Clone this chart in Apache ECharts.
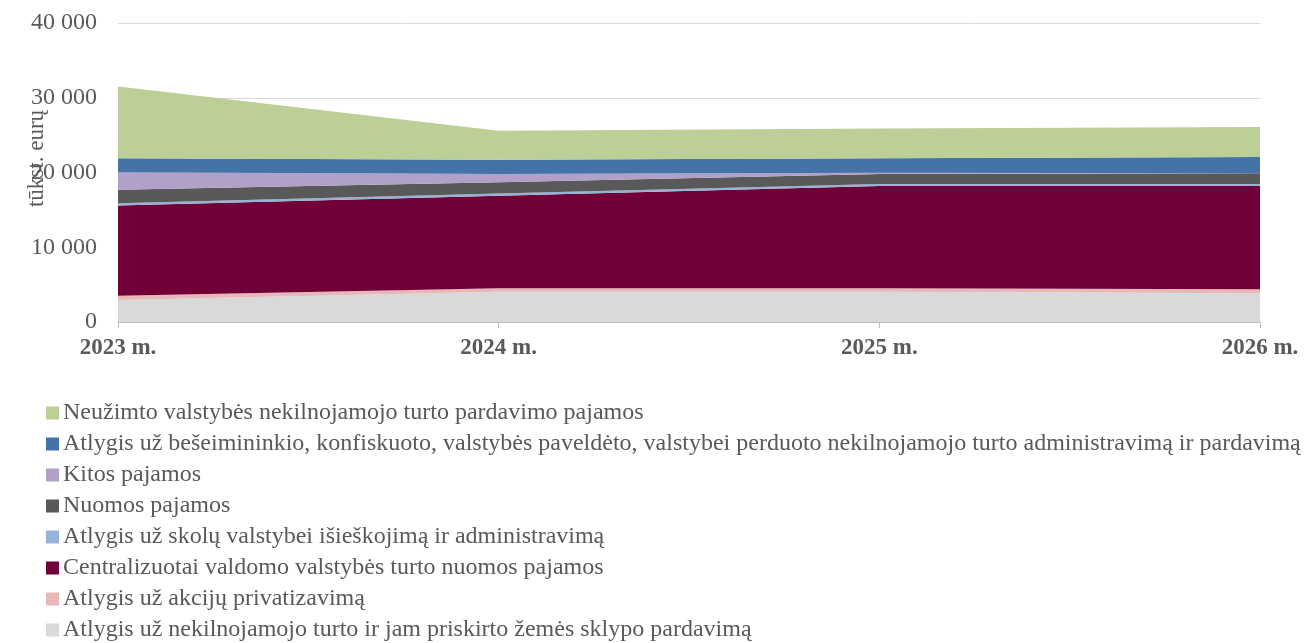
<!DOCTYPE html>
<html>
<head>
<meta charset="utf-8">
<script src="https://cdn.jsdelivr.net/npm/echarts@6/dist/echarts.min.js"></script>
<style>
  html, body { margin: 0; padding: 0; background: #fff; }
  #chart { width: 1305px; height: 643px; }
</style>
</head>
<body>
<div id="chart"></div>
<script>
// metai
const years = ['2023 m.', '2024 m.', '2025 m.', '2026 m.']

// tūkst. eurų, nuo apatinio sluoksnio
const nekilnojamojoPardavimas = [2950, 4050, 4050, 3850]
const akcijuPrivatizavimas = [550, 450, 450, 530]
const centralizuotaiNuoma = [12100, 12400, 13690, 13820]
const skoluIsieskojimas = [300, 300, 270, 270]
const nuomosPajamos = [1800, 1500, 1340, 1430]
const kitosPajamos = [2350, 1100, 150, 0]
const besemininkioTurtas = [1870, 1900, 1950, 2180]
const neuzimtoPardavimas = [9590, 3900, 4000, 4010]

const yTicks = [0, 10000, 20000, 30000, 40000]

const FONT = '"Liberation Serif", "DejaVu Serif", serif'

const layers = [
  { name: 'Atlygis už nekilnojamojo turto ir jam priskirto žemės sklypo pardavimą', data: nekilnojamojoPardavimas, color: '#d9d9d9' },
  { name: 'Atlygis už akcijų privatizavimą', data: akcijuPrivatizavimas, color: '#e6b9b8' },
  { name: 'Centralizuotai valdomo valstybės turto nuomos pajamos', data: centralizuotaiNuoma, color: '#720038' },
  { name: 'Atlygis už skolų valstybei išieškojimą ir administravimą', data: skoluIsieskojimas, color: '#95b3d7' },
  { name: 'Nuomos pajamos', data: nuomosPajamos, color: '#595959' },
  { name: 'Kitos pajamos', data: kitosPajamos, color: '#b1a0c7' },
  { name: 'Atlygis už bešeimininkio, konfiskuoto, valstybės paveldėto, valstybei perduoto nekilnojamojo turto administravimą ir pardavimą', data: besemininkioTurtas, color: '#4573a7' },
  { name: 'Neužimto valstybės nekilnojamojo turto pardavimo pajamos', data: neuzimtoPardavimas, color: '#bbcf96' }
]

function fmt(v) {
  return String(v).replace(/\B(?=(\d{3})+(?!\d))/g, ' ')
}

const chart = echarts.init(document.getElementById('chart'), null, { renderer: 'canvas' })

chart.setOption({
  animation: false,
  textStyle: { fontFamily: FONT },
  grid: {
    left: 118,
    right: 45,
    top: 23,
    bottom: 321,
    containLabel: false,
    outerBoundsMode: 'none'
  },
  legend: {
    orient: 'vertical',
    left: 46,
    top: 401,
    height: 242,
    padding: 0,
    itemWidth: 13,
    itemHeight: 13,
    itemGap: 7,
    icon: 'rect',
    data: layers.map(l => l.name).reverse(),
    textStyle: {
      fontFamily: FONT,
      fontSize: 24,
      color: '#595959',
      padding: [0, 0, 0, -1]
    }
  },
  xAxis: {
    type: 'category',
    data: years,
    boundaryGap: false,
    axisLine: { lineStyle: { color: '#bfbfbf', width: 1 } },
    axisTick: { show: true, length: 6, lineStyle: { color: '#bfbfbf' } },
    axisLabel: {
      fontFamily: FONT,
      fontSize: 23,
      fontWeight: 'bold',
      color: '#595959',
      margin: 15
    },
    splitLine: { show: false }
  },
  yAxis: {
    type: 'value',
    min: yTicks[0],
    max: yTicks[yTicks.length - 1],
    interval: 10000,
    name: 'tūkst. eurų',
    nameLocation: 'middle',
    nameGap: 70,
    nameMoveOverlap: false,
    nameTextStyle: {
      fontFamily: FONT,
      fontSize: 23,
      color: '#595959',
      padding: [0, 0, 0, 28]
    },
    axisLine: { show: false },
    axisTick: { show: false },
    axisLabel: {
      fontFamily: FONT,
      fontSize: 24,
      color: '#595959',
      margin: 21,
      formatter: v => fmt(v)
    },
    splitLine: { lineStyle: { color: '#d9d9d9', width: 1 } }
  },
  series: layers.map(l => ({
    name: l.name,
    type: 'line',
    stack: 'total',
    data: l.data,
    symbol: 'none',
    showSymbol: false,
    lineStyle: { width: 0 },
    itemStyle: { color: l.color },
    areaStyle: { color: l.color, opacity: 1 },
    emphasis: { disabled: true }
  }))
})
</script>
</body>
</html>
